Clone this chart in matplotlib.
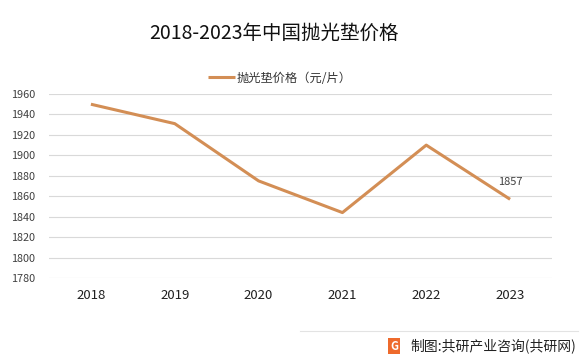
import matplotlib
matplotlib.use("Agg")
import matplotlib.pyplot as plt

plt.rcParams['font.family'] = ['Noto Sans CJK SC', 'DejaVu Sans']

years = ["2018", "2019", "2020", "2021", "2022", "2023"]
prices = [1950, 1931, 1875, 1844, 1910, 1857]
yticks = [1780, 1800, 1820, 1840, 1860, 1880, 1900, 1920, 1940, 1960]
series_name = "抛光垫价格（元/片）"
title = "2018-2023年中国抛光垫价格"
source = "制图:共研产业咨询(共研网)"

W, H = 586, 359
fig = plt.figure(figsize=(W/100, H/100), dpi=100)
ax = fig.add_axes([49/W, 1 - 278/H, (552-49)/W, (278-94)/H])

x = list(range(len(years)))
color = "#D38E55"
ax.plot(x, prices, color=color, lw=2.2, solid_capstyle='butt', label=series_name)
ax.set_xlim(-0.5, len(years) - 0.5)
ax.set_ylim(1780, 1960)
ax.set_yticks(yticks)
ax.set_yticklabels([str(v) for v in yticks], fontsize=7.8, color="#404040")
ax.set_xticks(x)
ax.set_xticklabels(years, fontsize=9.5, color="#202020")
ax.tick_params(axis='both', length=0)
ax.tick_params(axis='x', pad=8)
ax.tick_params(axis='y', pad=10)
ax.grid(axis='y', color="#D9D9D9", lw=0.8)
ax.set_axisbelow(True)
for s in ax.spines.values():
    s.set_visible(False)

ax.annotate(str(prices[-1]), (x[-1], prices[-1]), xytext=(0, 9), textcoords='offset points',
            ha='center', va='bottom', fontsize=8, color="#404040")

fig.text(274/W, 1 - 33/H, title, ha='center', va='center', fontsize=14, color="#111111")
leg = fig.legend(loc='center', bbox_to_anchor=(280/W, 1 - 78/H), frameon=False,
                 fontsize=8.8, handlelength=2.2, handletextpad=0.1)
for t in leg.get_texts():
    t.set_color("#333333")

# footer
fig.add_artist(plt.Line2D([300/W, 578/W], [1 - 331/H, 1 - 331/H], color="#E3E3E3", lw=0.8))
fig.text(394/W, 1 - 346/H, "G", ha='center', va='center', fontsize=8, color="white",
         fontweight='bold',
         bbox=dict(boxstyle='square,pad=0.15', fc="#EE6A2C", ec='none'))
fig.text(410/W, 1 - 346/H, source, ha='left', va='center', fontsize=10, color="#222222")

fig.savefig("out.png", dpi=100, facecolor='white')
